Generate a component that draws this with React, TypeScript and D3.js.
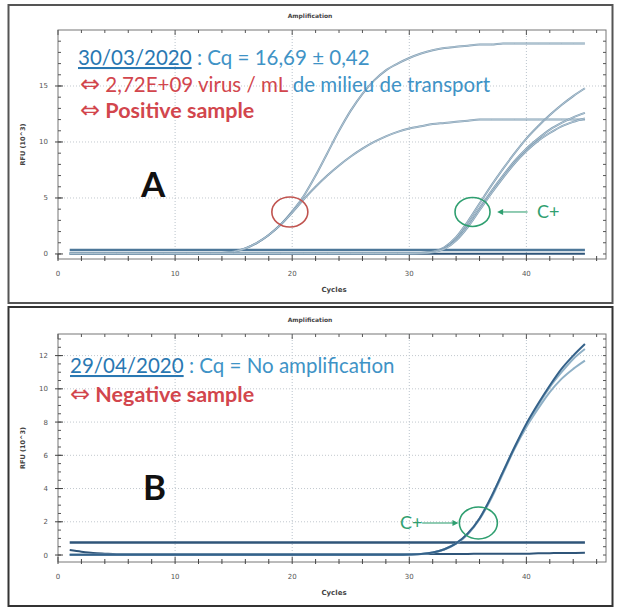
import React from "react";
import * as d3 from "d3";

// cycle index shared by every curve
const cycles = d3.range(1, 46);

// panel A, positive sample (two replicates)
const posHigh = [0.05,0.05,0.05,0.05,0.05,0.05,0.05,0.05,0.05,0.05,0.05,0.05,0.05,0.08,0.2,0.5,1.0,1.7,2.6,3.8,5.2,7.0,9.0,11.0,12.8,14.3,15.5,16.4,17.0,17.5,17.9,18.2,18.4,18.5,18.6,18.7,18.7,18.8,18.8,18.8,18.8,18.8,18.8,18.8,18.8];
const posLow = [0.05,0.05,0.05,0.05,0.05,0.05,0.05,0.05,0.05,0.05,0.05,0.05,0.05,0.08,0.2,0.5,1.0,1.7,2.6,3.7,4.9,6.0,7.0,7.9,8.7,9.4,10.0,10.5,10.9,11.2,11.4,11.6,11.7,11.8,11.9,12.0,12.0,12.0,12.0,12.0,12.0,12.0,12.0,12.0,12.0];
// panel A, positive control C+
const cposA1 = [0.05,0.05,0.05,0.05,0.05,0.05,0.05,0.05,0.05,0.05,0.05,0.05,0.05,0.05,0.05,0.05,0.05,0.05,0.05,0.05,0.05,0.05,0.05,0.05,0.05,0.05,0.05,0.05,0.05,0.05,0.08,0.2,0.6,1.5,2.9,4.5,6.1,7.6,9.0,10.3,11.4,12.4,13.3,14.1,14.8];
const cposA2 = [0.05,0.05,0.05,0.05,0.05,0.05,0.05,0.05,0.05,0.05,0.05,0.05,0.05,0.05,0.05,0.05,0.05,0.05,0.05,0.05,0.05,0.05,0.05,0.05,0.05,0.05,0.05,0.05,0.05,0.05,0.08,0.2,0.5,1.3,2.6,4.1,5.6,7.0,8.3,9.4,10.3,11.1,11.7,12.2,12.6];
const cposA3 = [0.05,0.05,0.05,0.05,0.05,0.05,0.05,0.05,0.05,0.05,0.05,0.05,0.05,0.05,0.05,0.05,0.05,0.05,0.05,0.05,0.05,0.05,0.05,0.05,0.05,0.05,0.05,0.05,0.05,0.05,0.07,0.15,0.45,1.2,2.4,3.9,5.4,6.8,8.1,9.2,10.1,10.8,11.4,11.8,12.1];
const negA = [0.02,0.02,0.02,0.02,0.02,0.02,0.02,0.02,0.02,0.02,0.02,0.02,0.02,0.02,0.02,0.02,0.02,0.02,0.02,0.02,0.02,0.02,0.02,0.02,0.02,0.02,0.02,0.02,0.02,0.02,0.02,0.02,0.02,0.02,0.02,0.02,0.02,0.02,0.02,0.02,0.02,0.02,0.02,0.02,0.02];

// panel B, positive control C+ and the negative sample
const cposB1 = [0.02,0.02,0.02,0.02,0.02,0.02,0.02,0.02,0.02,0.02,0.02,0.02,0.02,0.02,0.02,0.02,0.02,0.02,0.02,0.02,0.02,0.02,0.02,0.02,0.02,0.02,0.02,0.02,0.02,0.03,0.06,0.15,0.35,0.7,1.3,2.2,3.5,5.0,6.5,7.9,9.1,10.2,11.2,12.0,12.7];
const cposB2 = [0.02,0.02,0.02,0.02,0.02,0.02,0.02,0.02,0.02,0.02,0.02,0.02,0.02,0.02,0.02,0.02,0.02,0.02,0.02,0.02,0.02,0.02,0.02,0.02,0.02,0.02,0.02,0.02,0.02,0.03,0.06,0.15,0.35,0.7,1.3,2.2,3.5,5.0,6.5,7.8,9.0,10.1,11.0,11.8,12.4];
const cposB3 = [0.02,0.02,0.02,0.02,0.02,0.02,0.02,0.02,0.02,0.02,0.02,0.02,0.02,0.02,0.02,0.02,0.02,0.02,0.02,0.02,0.02,0.02,0.02,0.02,0.02,0.02,0.02,0.02,0.02,0.03,0.06,0.14,0.33,0.68,1.25,2.15,3.4,4.9,6.4,7.7,8.8,9.8,10.6,11.2,11.7];
const negB = [0.3,0.2,0.12,0.08,0.05,0.05,0.05,0.05,0.05,0.05,0.05,0.05,0.05,0.05,0.05,0.05,0.05,0.05,0.05,0.05,0.05,0.05,0.05,0.05,0.05,0.05,0.05,0.05,0.05,0.05,0.06,0.06,0.06,0.06,0.06,0.08,0.08,0.08,0.08,0.08,0.1,0.11,0.12,0.12,0.13];

// thresholds
const thresholdA = 0.35;
const thresholdB = 0.75;

// axis ticks
const xTicks = [0, 10, 20, 30, 40];
const yTicksA = [0, 5, 10, 15];
const yTicksB = [0, 2, 4, 6, 8, 10, 12];

const W = 618;
const H = 609;
const left = 58;
const right = 606;

const xScale = d3.scaleLinear().domain([0, 46.8]).range([left, right]);

const lineFor = (y: d3.ScaleLinear<number, number>) =>
  d3.line<number>().x((d, i) => xScale(cycles[i])).y(d => y(d)).curve(d3.curveMonotoneX);

function Frame({ y, top, bottom, yTicks, yMinor }: any) {
  const xMinor = d3.range(0, 47, 2);
  const yMin = d3.range(Math.ceil(y.domain()[0] / yMinor) * yMinor, y.domain()[1], yMinor);
  return (
    <g>
      <rect x={left} y={top} width={right - left} height={bottom - top} fill="white" stroke="#777" strokeWidth={1} />
      {xTicks.filter(t => t > 0).map(t => (
        <line key={"gx" + t} x1={xScale(t)} x2={xScale(t)} y1={top} y2={bottom} stroke="#b9c3cc" strokeDasharray="1,2" />
      ))}
      {yTicks.filter((t: number) => t > 0).map((t: number) => (
        <line key={"gy" + t} x1={left} x2={right} y1={y(t)} y2={y(t)} stroke="#c2c8ce" strokeDasharray="1,2" />
      ))}
      {xMinor.map(t => (
        <g key={"mx" + t}>
          <line x1={xScale(t)} x2={xScale(t)} y1={bottom + 2} y2={bottom - (t % 10 === 0 ? 5 : 3)} stroke="#444" />
          <line x1={xScale(t)} x2={xScale(t)} y1={top} y2={top + (t % 10 === 0 ? 5 : 3)} stroke="#555" />
        </g>
      ))}
      {yMin.map((t: number) => (
        <g key={"my" + t}>
          <line x1={left} x2={left + 3} y1={y(t)} y2={y(t)} stroke="#555" />
          <line x1={right} x2={right - 3} y1={y(t)} y2={y(t)} stroke="#555" />
        </g>
      ))}
      {yTicks.map((t: number) => (
        <g key={"ty" + t}>
          <line x1={left - 3} x2={left + 5} y1={y(t)} y2={y(t)} stroke="#444" />
          <text x={left - 10} y={y(t) + 2.5} fontSize={7} textAnchor="end" fill="#555" fontFamily="DejaVu Sans">{t}</text>
        </g>
      ))}
      {xTicks.map(t => (
        <text key={"tx" + t} x={xScale(t)} y={bottom + 17} fontSize={7} textAnchor="middle" fill="#555" fontFamily="DejaVu Sans">{t}</text>
      ))}
      <text x={(left + right) / 2 + 2} y={bottom + 33} fontSize={7} textAnchor="middle" fill="#444" fontWeight="bold" fontFamily="DejaVu Sans">Cycles</text>
      <text x={310} y={top - 12} fontSize={6} textAnchor="middle" fill="#444" fontWeight="bold" fontFamily="DejaVu Sans">Amplification</text>
      <text transform={`translate(25, ${(top + bottom) / 2}) rotate(-90)`} fontSize={6.5} textAnchor="middle" fill="#444" fontWeight="bold" fontFamily="DejaVu Sans">RFU (10^3)</text>
    </g>
  );
}

function Arrow({ x1, x2, y, color }: any) {
  const dir = x2 > x1 ? 1 : -1;
  return (
    <g>
      <line x1={x1} x2={x2 - dir * 4} y1={y} y2={y} stroke={color} strokeWidth={1.5} opacity={0.7} />
      <polygon points={`${x2},${y} ${x2 - dir * 6},${y - 3} ${x2 - dir * 6},${y + 3}`} fill={color} />
    </g>
  );
}

export default function App() {
  const yA = d3.scaleLinear().domain([-0.45, 20]).range([259, 30]);
  const yB = d3.scaleLinear().domain([-0.42, 13.3]).range([562, 334]);
  const lA = lineFor(yA);
  const lB = lineFor(yB);
  const blue = "#3f93c6";
  const dark = "#2a78b2";
  const red = "#d2464d";
  const green = "#2f9f70";
  const txt = { fontFamily: "Lato, 'Open Sans', sans-serif" };
  const arrowFont = { fontFamily: "'DejaVu Sans'", fontWeight: "normal" as const, fontSize: 24 };

  return (
    <svg width={W} height={H} style={{ position: "absolute", left: 0, top: 0, background: "white" }}>
      <rect x={0} y={0} width={W} height={H} fill="white" />
      <rect x={8.5} y={5} width={604} height={298} fill="none" stroke="#555" strokeWidth={2} />
      <rect x={8.5} y={307} width={604} height={299} fill="none" stroke="#333" strokeWidth={2} />

      {/* Panel A */}
      <Frame y={yA} top={30} bottom={259} yTicks={yTicksA} yMinor={1} />
      <line x1={xScale(1)} x2={xScale(45)} y1={yA(thresholdA)} y2={yA(thresholdA)} stroke="#4d7799" strokeWidth={2.5} />
      <path d={lA(negA) || ""} fill="none" stroke="#2f5579" strokeWidth={2} />
      {[posHigh, posLow, cposA1, cposA2, cposA3].map((s, i) => (
        <g key={"a" + i}>
          <path d={lA(s) || ""} fill="none" stroke="#7f9cb2" strokeWidth={2} />
          <path d={lA(s) || ""} fill="none" stroke="#c9d8e3" strokeWidth={0.7} />
        </g>
      ))}
      <ellipse cx={xScale(19.8)} cy={yA(3.75)} rx={18} ry={15} fill="none" stroke="#c0534f" strokeWidth={1.6} />
      <ellipse cx={xScale(35.4)} cy={yA(3.75)} rx={17.5} ry={14.5} fill="none" stroke={green} strokeWidth={1.6} />
      <Arrow x1={xScale(40.1)} x2={xScale(37.5)} y={yA(3.75)} color={green} />
      <text x={xScale(40.9)} y={yA(3.75) + 6} fontSize={18} fill={green} {...txt}>C+</text>

      <text x={78} y={65} fontSize={20.5} {...txt}>
        <tspan fill={dark} style={{ textDecoration: "underline" }}>30/03/2020</tspan>
        <tspan fill={blue}> : Cq = 16,69 ± 0,42</tspan>
      </text>
      <text x={80} y={92} fontSize={20.5} {...txt}>
        <tspan fill={red} {...arrowFont}>⇔</tspan>
        <tspan fill={red}> 2,72E+09 virus / mL</tspan>
        <tspan fill={blue}> de milieu de transport</tspan>
      </text>
      <text x={80} y={118} fontSize={21.5} fontWeight="bold" fill={red} {...txt}>
        <tspan {...arrowFont}>⇔</tspan>
        <tspan> Positive sample</tspan>
      </text>
      <text x={141} y={197} fontSize={35} fontWeight="bold" fill="#111" {...txt}>A</text>

      {/* Panel B */}
      <Frame y={yB} top={334} bottom={562} yTicks={yTicksB} yMinor={0.5} />
      <line x1={xScale(1)} x2={xScale(45)} y1={yB(thresholdB)} y2={yB(thresholdB)} stroke="#2f5579" strokeWidth={2.5} />
      <path d={lB(negB) || ""} fill="none" stroke="#2f5579" strokeWidth={2} />
      {[cposB3, cposB2, cposB1].map((s, i) => (
        <g key={"b" + i}>
          <path d={lB(s) || ""} fill="none" stroke={i === 2 ? "#35628a" : "#8fb0c6"} strokeWidth={2} />
        </g>
      ))}
      <ellipse cx={xScale(35.9)} cy={yB(1.93)} rx={19} ry={16} fill="none" stroke={green} strokeWidth={1.6} />
      <Arrow x1={xScale(31.1)} x2={xScale(34.2)} y={yB(1.93)} color={green} />
      <text x={xScale(29.2)} y={yB(1.93) + 6} fontSize={18} fill={green} {...txt}>C+</text>

      <text x={70} y={373} fontSize={20.5} {...txt}>
        <tspan fill={dark} style={{ textDecoration: "underline" }}>29/04/2020</tspan>
        <tspan fill={blue}> : Cq = No amplification</tspan>
      </text>
      <text x={70} y={402} fontSize={21.5} fontWeight="bold" fill={red} {...txt}>
        <tspan {...arrowFont}>⇔</tspan>
        <tspan> Negative sample</tspan>
      </text>
      <text x={143} y={500} fontSize={35} fontWeight="bold" fill="#111" {...txt}>B</text>
    </svg>
  );
}
